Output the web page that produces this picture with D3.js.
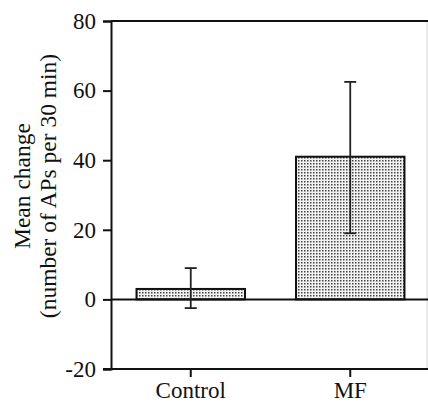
<!DOCTYPE html>
<html>
<head>
<meta charset="utf-8">
<script src="https://d3js.org/d3.v7.min.js"></script>
<style>
	body { margin: 0; background: #fff; }
</style>
</head>
<body>
<script>
	var width = 428;
	var height = 406;
	var serif = "Liberation Serif";

	// data
	var groups = ["Control", "MF"]
	var means = [3, 41]
	var errLow = [-2.5, 19]
	var errHigh = [9, 62.5]
	var yTicks = [-20, 0, 20, 40, 60, 80]

	var data = groups.map(function(g, i) {
		return { group: g, mean: means[i], lo: errLow[i], hi: errHigh[i] }
	})

	var svg = d3.select("body")
		.append("svg")
		.attr("width", width)
		.attr("height", height)

	// stipple fill for the bars
	var pat = svg.append("defs").append("pattern")
		.attr("id", "dots")
		.attr("width", 3)
		.attr("height", 3)
		.attr("patternUnits", "userSpaceOnUse")
	pat.append("rect").attr("width", 3).attr("height", 3).attr("fill", "#f2f2f2")
	pat.append("rect").attr("x", 1).attr("y", 1).attr("width", 1.5).attr("height", 1.5).attr("fill", "#444")

	// scales
	var xScale = d3.scaleBand()
		.domain(groups)
		.range([111, 430])
		.paddingInner(0.32)
		.paddingOuter(0.16)

	var yScale = d3.scaleLinear()
		.domain([-20, 80])
		.range([369, 21])

	// frame: top line and faint right edge
	svg.append("line")
		.attr("x1", 427).attr("x2", 427)
		.attr("y1", yScale(80)).attr("y2", yScale(-20))
		.attr("stroke", "#d8d8d8").attr("stroke-width", 1)
	svg.append("line")
		.attr("x1", 111).attr("x2", width)
		.attr("y1", yScale(80)).attr("y2", yScale(80))
		.attr("stroke", "#111").attr("stroke-width", 2)

	// bars
	svg.selectAll(".bar")
		.data(data)
		.enter()
		.append("rect")
		.attr("class", "bar")
		.attr("x", d => xScale(d.group))
		.attr("y", d => yScale(d.mean))
		.attr("width", xScale.bandwidth())
		.attr("height", d => yScale(0) - yScale(d.mean))
		.attr("fill", "url(#dots)")
		.attr("stroke", "#111")
		.attr("stroke-width", 2)

	// zero line
	svg.append("line")
		.attr("x1", 111).attr("x2", width)
		.attr("y1", yScale(0)).attr("y2", yScale(0))
		.attr("stroke", "#111").attr("stroke-width", 2)

	// error bars
	var cx = d => xScale(d.group) + xScale.bandwidth() / 2
	var eb = svg.selectAll(".err")
		.data(data)
		.enter()
		.append("g")
		.attr("class", "err")
		.attr("stroke", "#222")
		.attr("stroke-width", 1.8)
	eb.append("line")
		.attr("x1", cx).attr("x2", cx)
		.attr("y1", d => yScale(d.lo)).attr("y2", d => yScale(d.hi))
	eb.append("line")
		.attr("x1", d => cx(d) - 6).attr("x2", d => cx(d) + 6)
		.attr("y1", d => yScale(d.hi)).attr("y2", d => yScale(d.hi))
	eb.append("line")
		.attr("x1", d => cx(d) - 6).attr("x2", d => cx(d) + 6)
		.attr("y1", d => yScale(d.lo)).attr("y2", d => yScale(d.lo))

	// y axis
	var yAxis = svg.append("g")
		.attr("transform", "translate(111,0)")
		.call(d3.axisLeft(yScale).tickValues(yTicks).tickSize(8).tickPadding(7)
			.tickFormat(d => String(d)))
	yAxis.select(".domain").attr("stroke", "#111").attr("stroke-width", 2)
	yAxis.selectAll(".tick line").attr("stroke", "#111").attr("stroke-width", 2)
	yAxis.selectAll("text")
		.style("font-family", serif).style("font-size", "23px").attr("fill", "#111")

	// x axis at the bottom
	var xAxis = svg.append("g")
		.attr("transform", "translate(0," + yScale(-20) + ")")
		.call(d3.axisBottom(xScale).tickSize(8).tickPadding(5).tickSizeOuter(0))
	xAxis.select(".domain").remove()
	xAxis.append("line")
		.attr("x1", 103).attr("x2", width)
		.attr("stroke", "#111").attr("stroke-width", 2)
	xAxis.selectAll(".tick line").attr("stroke", "#111").attr("stroke-width", 2)
	xAxis.selectAll("text")
		.style("font-family", serif).style("font-size", "23px").attr("fill", "#111")

	// y label
	var yl = svg.append("text")
		.attr("transform", "translate(0,186) rotate(-90)")
		.attr("text-anchor", "middle")
		.style("font-family", serif)
		.style("font-size", "23.5px")
		.attr("fill", "#111")
	yl.append("tspan").attr("x", 0).attr("y", 30).text("Mean change")
	yl.append("tspan").attr("x", 0).attr("y", 56).text("(number of APs per 30 min)")
</script>
</body>
</html>
